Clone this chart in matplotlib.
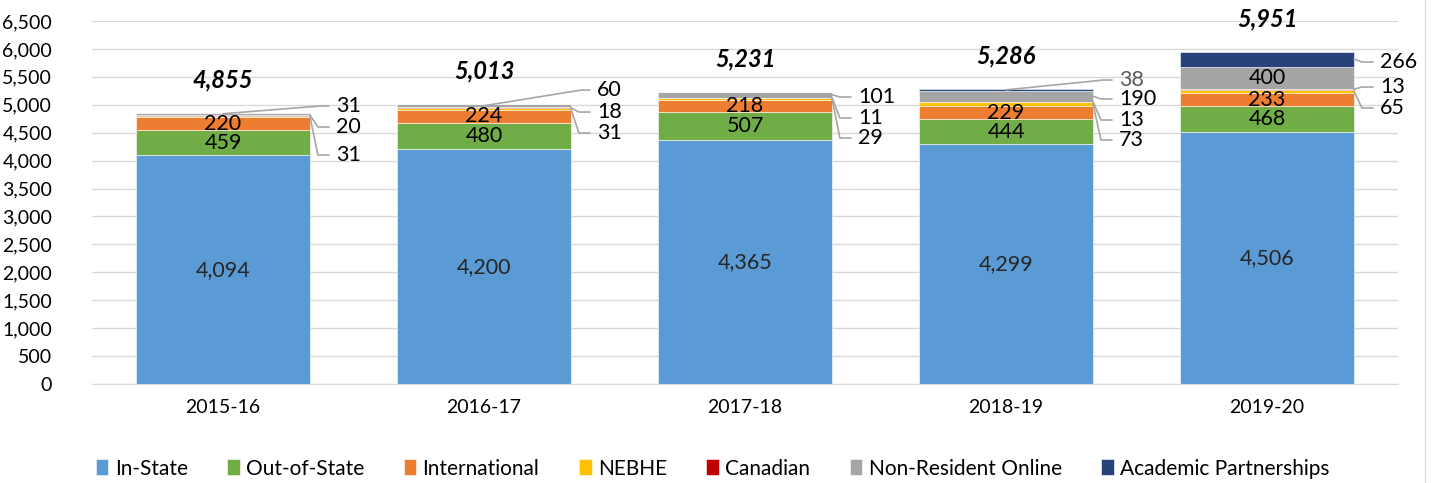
import matplotlib
matplotlib.use('Agg')
import matplotlib.pyplot as plt
import numpy as np

plt.rcParams['font.family'] = ['Lato', 'DejaVu Sans']

# Enrollment by residency, stacked bottom to top
years = ['2015-16', '2016-17', '2017-18', '2018-19', '2019-20']
series_names = ['In-State', 'Out-of-State', 'International', 'NEBHE', 'Canadian',
                'Non-Resident Online', 'Academic Partnerships']
in_state = [4094, 4200, 4365, 4299, 4506]
out_of_state = [459, 480, 507, 444, 468]
international = [220, 224, 218, 229, 233]
nebhe = [31, 31, 29, 73, 65]
canadian = [20, 18, 11, 13, 13]
non_resident_online = [31, 60, 101, 190, 400]
academic_partnerships = [0, 0, 0, 38, 266]
totals = [4855, 5013, 5231, 5286, 5951]

colors = ['#5B9BD5', '#70AD47', '#ED7D31', '#FFC000', '#C00000', '#A5A5A5', '#264478']

data = np.array([in_state, out_of_state, international, nebhe, canadian,
                 non_resident_online, academic_partnerships], dtype=float)

# which segments get a label inside the bar
inside = {0: [0, 1, 2, 3, 4], 1: [0, 1, 2, 3, 4], 2: [0, 1, 2, 3, 4], 5: [4]}
# callouts: (year index, series index, label y, anchor 'c'=bar centre / 'e'=right edge)
callouts = [
    (0, 5, 4978, 'c'), (0, 4, 4602, 'e'), (0, 3, 4100, 'e'),
    (1, 5, 5264, 'c'), (1, 4, 4870, 'e'), (1, 3, 4494, 'e'),
    (2, 5, 5139, 'e'), (2, 4, 4763, 'e'), (2, 3, 4405, 'e'),
    (3, 6, 5443, 'c'), (3, 5, 5103, 'e'), (3, 4, 4727, 'e'), (3, 3, 4369, 'e'),
    (4, 6, 5765, 'e'), (4, 4, 5318, 'e'), (4, 3, 4942, 'e'),
]

fig = plt.figure(figsize=(14.34, 4.83), dpi=100)
ax = fig.add_axes([0.0645, 0.205, 0.9101, 0.7515])

x = np.arange(len(years))
width = 0.667
bottoms = np.zeros(len(years))
for i, name in enumerate(series_names):
    ax.bar(x, data[i], width, bottom=bottoms, color=colors[i], label=name,
           edgecolor='white', linewidth=0.4, zorder=2)
    if i in inside:
        for j in inside[i]:
            txt_color = '#262626' if i == 0 else 'black'
            ax.text(x[j], bottoms[j] + data[i][j] / 2, f'{int(data[i][j]):,}',
                    ha='center', va='center', fontsize=15.5, color=txt_color, zorder=3)
    bottoms += data[i]

cum = np.cumsum(data, axis=0)
for j, i, ly, kind in callouts:
    seg_mid = cum[i][j] - data[i][j] / 2
    lx = x[j] + 0.433
    if kind == 'c':
        pts = [(lx - 0.028, ly), (lx - 0.06, ly), (x[j], seg_mid)]
    else:
        pts = [(lx - 0.028, ly), (x[j] + width / 2 + 0.03, ly), (x[j] + width / 2, seg_mid)]
    px, py = zip(*pts)
    ax.plot(px, py, color='#A6A6A6', lw=1.2, clip_on=False, zorder=3)
    tcol = '#595959' if i == 6 and j == 3 else 'black'
    ax.text(lx, ly, f'{int(data[i][j]):,}', ha='left', va='center', fontsize=15.5,
            color=tcol, clip_on=False)

for j, t in enumerate(totals):
    ax.text(x[j], t + 590, f'{t:,}', ha='center', va='center', fontsize=17,
            fontweight='bold', fontstyle='italic', clip_on=False)

ax.set_xlim(-0.5, len(years) - 0.5)
ax.set_ylim(0, 6500)
ax.set_yticks(np.arange(0, 6501, 500))
ax.set_yticklabels([f'{v:,}' for v in range(0, 6501, 500)])
ax.set_xticks(x)
ax.set_xticklabels(years)
ax.tick_params(axis='y', length=0, labelsize=14, pad=29)
ax.tick_params(axis='x', length=0, labelsize=14, pad=11)
ax.yaxis.grid(True, color='#D9D9D9', lw=1, zorder=0)
ax.set_axisbelow(True)
for s in ['top', 'right', 'left']:
    ax.spines[s].set_visible(False)
ax.spines['bottom'].set_color('#D9D9D9')

fig.legend(loc='center', bbox_to_anchor=(0.497, 0.03), ncol=7, frameon=False,
           fontsize=15, handlelength=0.6, handleheight=0.8, handletextpad=0.3,
           columnspacing=1.9)

fig.add_artist(plt.Line2D([0.9937, 0.9937], [0, 1], color='#D9D9D9', lw=1))

fig.savefig('out.png', dpi=100)
